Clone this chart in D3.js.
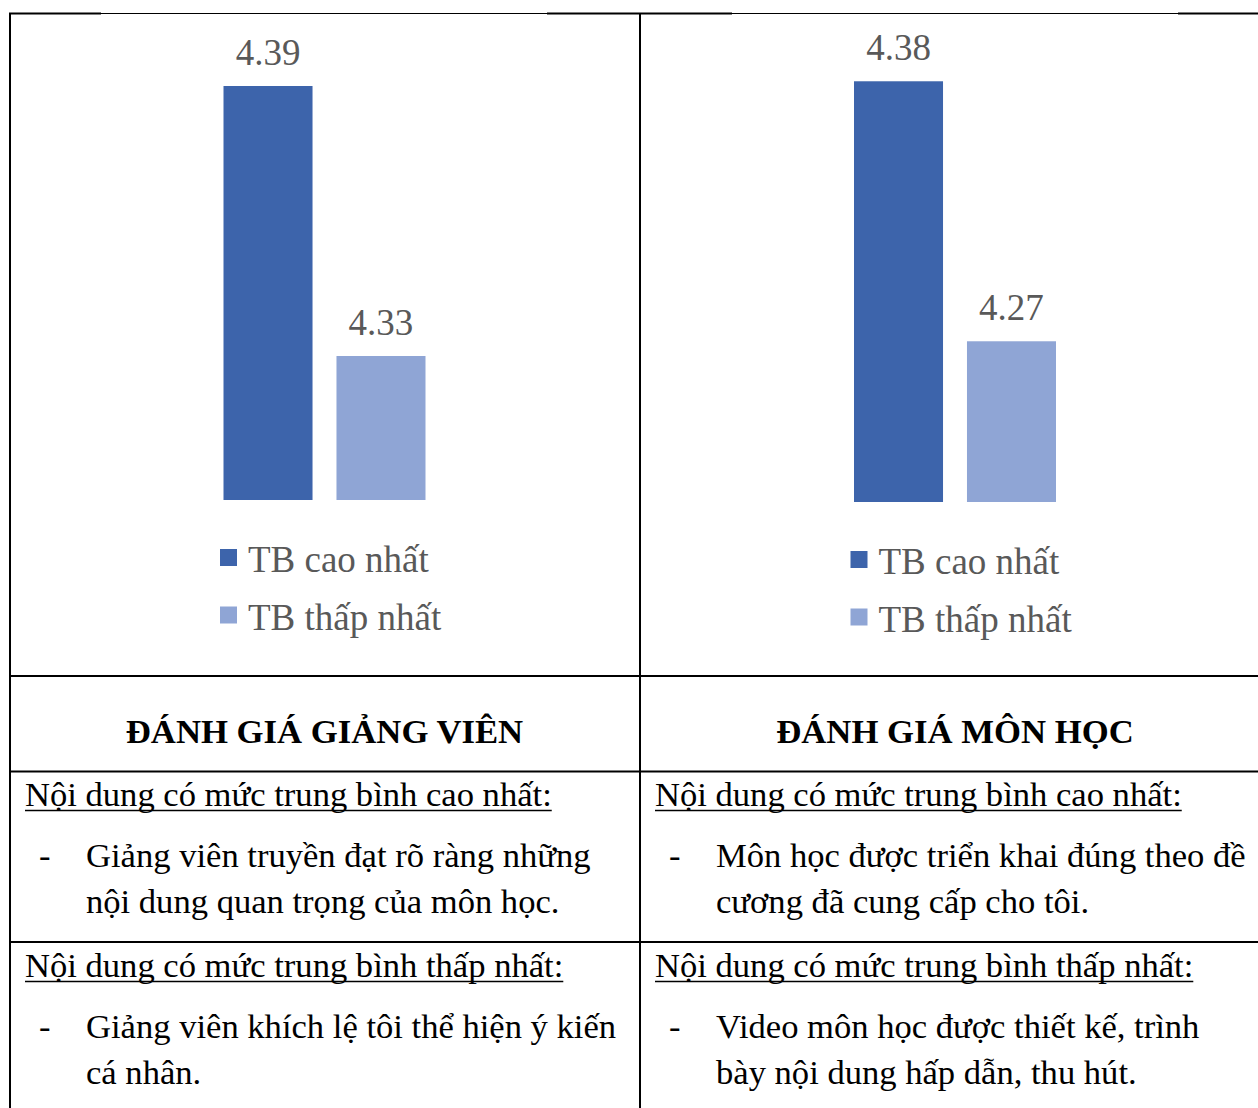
<!DOCTYPE html>
<html>
<head>
<meta charset="utf-8">
<script src="https://cdn.jsdelivr.net/npm/d3@7"></script>
<style>
  body { margin: 0; background: #fff; }
  svg { display: block; }
</style>
</head>
<body>
<div id="chart"></div>
<script>
// data
var series = ["TB cao nhất", "TB thấp nhất"];
var giangVien = [4.39, 4.33];
var monHoc = [4.38, 4.27];
var axisMin = [4.298, 4.202];
var axisMax = [4.40, 4.40];
var headers = ["ĐÁNH GIÁ GIẢNG VIÊN", "ĐÁNH GIÁ MÔN HỌC"];
var topTitle = "Nội dung có mức trung bình cao nhất:";
var lowTitle = "Nội dung có mức trung bình thấp nhất:";
var topText = [
  ["Giảng viên truyền đạt rõ ràng những", "nội dung quan trọng của môn học."],
  ["Môn học được triển khai đúng theo đề", "cương đã cung cấp cho tôi."]
];
var lowText = [
  ["Giảng viên khích lệ tôi thể hiện ý kiến", "cá nhân."],
  ["Video môn học được thiết kế, trình", "bày nội dung hấp dẫn, thu hút."]
];
var colors = ["#3d64ab", "#8fa5d5"];

var width = 1258;
var height = 1108;
var serif = "'Liberation Serif', 'Times New Roman', serif";

var svg = d3.select("#chart")
  .append("svg")
    .attr("width", width)
    .attr("height", height);

// table columns: left edge, right edge
var cells = [
  {x0: 9, x1: 640, tx: 25, values: giangVien, base: 500, top: 41},
  {x0: 640, x1: 1270, tx: 655, values: monHoc, base: 502, top: 34}
];

cells.forEach(function (c, i) {
  var cx = (c.x0 + c.x1) / 2;

  var xScale = d3.scaleBand()
    .domain(series)
    .range([cx - 101, cx + 101])
    .paddingInner(0.212);

  var yScale = d3.scaleLinear()
    .domain([axisMin[i], axisMax[i]])
    .range([c.base, c.top]);

  var data = series.map(function (s, k) { return {name: s, value: c.values[k], color: colors[k]}; });

  var g = svg.append("g");

  g.selectAll("rect.bar")
    .data(data)
    .enter()
    .append("rect")
      .attr("class", "bar")
      .attr("x", function (d) { return xScale(d.name); })
      .attr("width", xScale.bandwidth())
      .attr("y", function (d) { return yScale(d.value); })
      .attr("height", function (d) { return c.base - yScale(d.value); })
      .style("fill", function (d) { return d.color; });

  // value labels
  g.selectAll("text.val")
    .data(data)
    .enter()
    .append("text")
      .attr("class", "val")
      .attr("x", function (d) { return xScale(d.name) + xScale.bandwidth() / 2; })
      .attr("y", function (d) { return yScale(d.value) - 21; })
      .attr("text-anchor", "middle")
      .style("font-family", serif)
      .style("font-size", "37px")
      .style("fill", "#595959")
      .text(function (d) { return d.value.toFixed(2); });

  // legend
  var lx = cx - 104.5;
  var ly = c.base + 49;
  var leg = g.selectAll("g.leg")
    .data(data)
    .enter()
    .append("g")
      .attr("class", "leg")
      .attr("transform", function (d, k) { return "translate(" + lx + "," + (ly + k * 57.5) + ")"; });
  leg.append("rect")
    .attr("width", 17)
    .attr("height", 17)
    .style("fill", function (d) { return d.color; });
  leg.append("text")
    .attr("x", 28)
    .attr("y", 23)
    .style("font-family", serif)
    .style("font-size", "37px")
    .style("fill", "#595959")
    .text(function (d) { return d.name; });

  // header
  svg.append("text")
    .attr("x", cx)
    .attr("y", 743)
    .attr("text-anchor", "middle")
    .style("font-family", serif)
    .style("font-weight", "bold")
    .style("font-size", "34.7px")
    .text(headers[i]);

  // body text
  var tx = c.tx;
  function block(title, lines, y0) {
    var t = svg.append("text")
      .attr("x", tx)
      .attr("y", y0)
      .style("font-family", serif)
      .style("font-size", "34.6px")
      .text(title);
    var len = t.node().getComputedTextLength();
    svg.append("line")
      .attr("x1", tx).attr("x2", tx + len)
      .attr("y1", y0 + 4.5).attr("y2", y0 + 4.5)
      .style("stroke", "#000")
      .style("stroke-width", 1.6);
    svg.append("text")
      .attr("x", tx + 14)
      .attr("y", y0 + 61)
      .style("font-family", serif)
      .style("font-size", "34.6px")
      .text("-");
    lines.forEach(function (l, k) {
      svg.append("text")
        .attr("x", tx + 61)
        .attr("y", y0 + 61 + k * 46)
        .style("font-family", serif)
        .style("font-size", "34.6px")
        .text(l);
    });
  }
  block(topTitle, topText[i], 806);
  block(lowTitle, lowText[i], 977);
});

// table borders
var grid = svg.append("g").style("stroke", "#000");
grid.append("line").attr("x1", 9).attr("x2", width).attr("y1", 13.5).attr("y2", 13.5).style("stroke-width", 1.2);
[[9, 101], [547, 732], [1178, 1258]].forEach(function (s) {
  grid.append("line").attr("x1", s[0]).attr("x2", s[1]).attr("y1", 13.5).attr("y2", 13.5).style("stroke-width", 2);
});
[10, 640].forEach(function (x) {
  grid.append("line").attr("x1", x).attr("x2", x).attr("y1", 13).attr("y2", height).style("stroke-width", 2);
});
[676, 771.5, 942].forEach(function (y) {
  grid.append("line").attr("x1", 9).attr("x2", width).attr("y1", y).attr("y2", y).style("stroke-width", 2);
});
</script>
</body>
</html>
